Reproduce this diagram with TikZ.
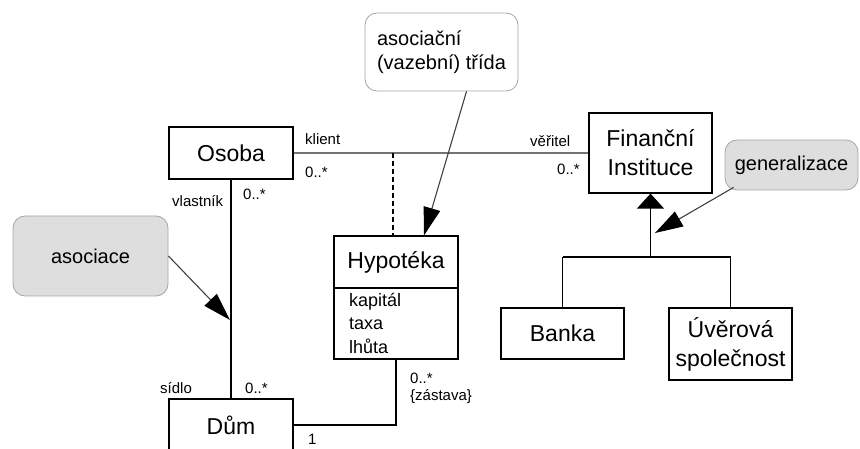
\documentclass[tikz,border=0pt]{standalone}
\usepackage{fontspec}
\setmainfont{Liberation Sans}
\usetikzlibrary{arrows.meta,calc}
\begin{document}
\begin{tikzpicture}[x=1pt,y=-1pt,
  classbox/.style={draw, line width=1.2pt, inner sep=0pt, align=center,
    font=\fontsize{23}{29}\selectfont},
  role/.style={inner sep=0pt, anchor=base west, font=\fontsize{15}{18}\selectfont},
  attr/.style={inner sep=0pt, anchor=base west, font=\fontsize{18}{22}\selectfont},
  note/.style={rounded corners=12pt, line width=0.8pt, draw=black!35, inner sep=0pt,
    font=\fontsize{20}{24}\selectfont},
  greynote/.style={note, fill=black!13},
  link/.style={line width=1.2pt},
  pointer/.style={line width=1.1pt, draw=black!75,
    -{Triangle[length=28pt,width=17pt,color=black,fill=black]}},
  genarrow/.style={link, -{Triangle[length=15pt,width=27pt,color=black,fill=black]}}
]
\useasboundingbox (0,0) rectangle (860,449);
\clip (0,0) rectangle (860,449);

% classes
\node[classbox, minimum width=124pt, minimum height=52pt] (osoba) at (231,153) {Osoba};
\node[classbox, minimum width=123pt, minimum height=80pt] (fin) at (650.5,153)
  {Finanční\\Instituce};
\node[classbox, minimum width=124pt, minimum height=123pt] (hyp) at (396,297.5) {};
\node[font=\fontsize{23}{29}\selectfont, inner sep=0pt] (hyptitle) at (396,262) {Hypotéka};
\draw[link] (hyp.west |- 0,288) coordinate (hypsepL) -- (hyp.east |- 0,288) coordinate (hypsepR);
\node[attr] (attr1) at (349,306) {kapitál};
\node[attr] (attr2) at (349,330) {taxa};
\node[attr] (attr3) at (349,353) {lhůta};
\node[classbox, minimum width=124pt, minimum height=52pt] (dum) at (231,425) {Dům};
\node[classbox, minimum width=123pt, minimum height=51pt] (banka) at (562.5,333.5) {Banka};
\node[classbox, minimum width=123pt, minimum height=72pt] (uver) at (730.5,344)
  {Úvěrová\\společnost};

% notes
\node[greynote, minimum width=155pt, minimum height=80pt] (nasoc) at (90.5,256) {asociace};
\node[note, fill=white, minimum width=153pt, minimum height=78pt, align=left] (ntrida) at (441.5,52)
  {asociační\\(vazební) třída};
\node[greynote, minimum width=133pt, minimum height=50pt] (ngen) at (791.5,165) {generalizace};

% associations
\draw[link, draw=black!55] (osoba.east) -- (fin.west);
\draw[link] (osoba.south) -- (dum.north);
\coordinate (assocpt) at (393,153);
\draw[link, dash pattern=on 5pt off 3pt] (assocpt) -- (assocpt |- hyp.north);
\coordinate (corner) at (hyp.south |- dum.east);
\draw[link] (dum.east) -- (corner) -- (hyp.south);

% generalisation
\coordinate (junction) at (650.5,257);
\draw[genarrow] (junction) -- (fin.south);
\draw[link] (banka.north |- junction) -- (uver.north |- junction);
\draw[link] (banka.north |- junction) -- (banka.north);
\draw[link] (uver.north |- junction) -- (uver.north);

% note pointers
\coordinate (asocTip) at (230,320);
\draw[pointer] (nasoc.east) -- (asocTip);
\draw[pointer] ($(ntrida.south)+(25,0)$) -- ($(hyp.north)+(28,0)$);
\coordinate (genTip) at (655,233);
\draw[pointer] ($(ngen.south west)+(9,-3)$) -- (genTip);

% role names and multiplicities
\node[role] (rklient) at (305,145) {klient};
\node[role] (mklient) at (305,178) {0..*};
\node[role] (rvlast) at (172,207) {vlastník};
\node[role] (mvlast) at (243,200) {0..*};
\node[role] (rveritel) at (530,147) {věřitel};
\node[role] (mveritel) at (557,175) {0..*};
\node[role] (rsidlo) at (160,393) {sídlo};
\node[role] (msidlo) at (245,393) {0..*};
\node[role] (mone) at (308,444) {1};
\node[role] (mzast) at (410,383) {0..*};
\node[role] (rzast) at (410,400) {\{zástava\}};
\end{tikzpicture}
\end{document}
